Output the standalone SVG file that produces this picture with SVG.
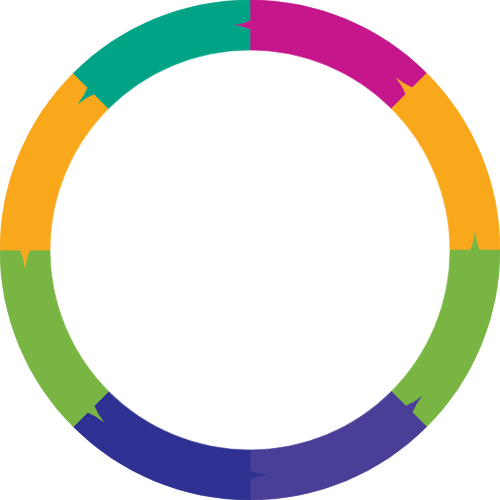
<svg xmlns="http://www.w3.org/2000/svg" xmlns:xlink="http://www.w3.org/1999/xlink" width="500" height="500" viewBox="0 0 500 500">
<style>
.seg{stroke-width:0.6;stroke-linejoin:round}
</style>
<defs>
<path id="piece" d="M250,0 A250,250 0 0 1 426.777,73.223 L412.281,87.719 Q404.149,84.536 396.725,78.522 Q402.735,85.951 405.917,94.083 L391.421,108.579 A200,200 0 0 0 250,50 L250,29.5 Q242,26 232.5,25 Q242,24 250,20.5 Z"/>
</defs>
<rect width="500" height="500" fill="#ffffff"/>
<g id="seg1"><use xlink:href="#piece" href="#piece" class="seg" fill="#C5168C" stroke="#C5168C" transform="rotate(0 250 250)"/></g>
<g id="seg2"><use xlink:href="#piece" href="#piece" class="seg" fill="#F9A81B" stroke="#F9A81B" transform="rotate(45 250 250)"/></g>
<g id="seg3"><use xlink:href="#piece" href="#piece" class="seg" fill="#79B542" stroke="#79B542" transform="rotate(90 250 250)"/></g>
<g id="seg4"><use xlink:href="#piece" href="#piece" class="seg" fill="#4A3F97" stroke="#4A3F97" transform="rotate(135 250 250)"/></g>
<g id="seg5"><use xlink:href="#piece" href="#piece" class="seg" fill="#2E3192" stroke="#2E3192" transform="rotate(180 250 250)"/></g>
<g id="seg6"><use xlink:href="#piece" href="#piece" class="seg" fill="#79B542" stroke="#79B542" transform="rotate(225 250 250)"/></g>
<g id="seg7"><use xlink:href="#piece" href="#piece" class="seg" fill="#F9A81B" stroke="#F9A81B" transform="rotate(270 250 250)"/></g>
<g id="seg8"><use xlink:href="#piece" href="#piece" class="seg" fill="#00A386" stroke="#00A386" transform="rotate(315 250 250)"/></g>
<g id="connectors"/>
</svg>
